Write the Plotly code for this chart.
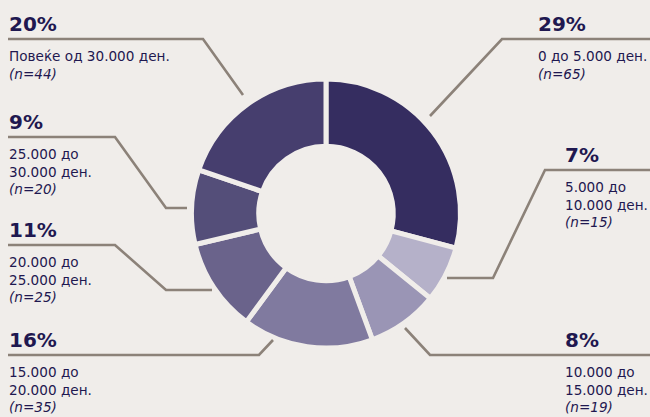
import plotly.graph_objects as go

# ---- data ----
categories = ["0 до 5.000 ден.", "5.000 до<br>10.000 ден.", "10.000 до<br>15.000 ден.",
              "15.000 до<br>20.000 ден.", "20.000 до<br>25.000 ден.", "25.000 до<br>30.000 ден.",
              "Повеќе од 30.000 ден."]
counts = [65, 15, 19, 35, 25, 20, 44]
pct_labels = ["29%", "7%", "8%", "16%", "11%", "9%", "20%"]
colors = ["#352d60", "#b5b1c9", "#9a95b5", "#807a9f", "#6a638b", "#544e79", "#463e6e"]

# ---- layout helpers (pixel positions of label blocks & leader lines) ----
W, H = 650, 417
BG = "#f0edea"
TXT = "#1f1850"
LINE = "#8c8279"
FONT = "DejaVu Sans, Liberation Sans, Arial, sans-serif"

label_x = [537, 564, 564, 8, 8, 8, 8]
label_line_y = [39, 170, 355, 355, 245, 137, 39]
leaders = [
    [(650, 39), (502, 39), (430, 116)],
    [(650, 170), (545, 170), (493, 278), (447, 278)],
    [(650, 355), (430, 355), (405, 328)],
    [(8, 355), (259, 355), (273, 340)],
    [(8, 245), (115, 245), (166, 290), (212, 290)],
    [(8, 137), (115, 137), (166, 208), (187, 208)],
    [(8, 39), (203, 39), (243, 95)],
]

def px(x):
    return x / W

def py(y):
    return 1 - y / H

cx, cy, R = 326, 213.5, 134.5

fig = go.Figure(go.Pie(
    labels=[c.replace("<br>", " ") for c in categories],
    values=counts,
    sort=False,
    direction="clockwise",
    rotation=0,
    hole=0.5,
    textinfo="none",
    hoverinfo="label+value",
    marker=dict(colors=colors, line=dict(color=BG, width=5)),
    domain=dict(x=[px(cx - R), px(cx + R)], y=[py(cy + R), py(cy - R)]),
    showlegend=False,
))

shapes = []
for pts in leaders:
    path = "M " + " L ".join(f"{px(x)},{py(y)}" for x, y in pts)
    shapes.append(dict(type="path", path=path, xref="paper", yref="paper",
                       line=dict(color=LINE, width=2.6)))

annotations = []
n_txt = [f"<i>(n={n})</i>" for n in counts]
for i in range(len(counts)):
    ly = label_line_y[i]
    annotations.append(dict(
        x=px(label_x[i]), y=py(ly - 15), xref="paper", yref="paper",
        xanchor="left", yanchor="middle", showarrow=False, borderpad=0,
        text=f"<b>{pct_labels[i]}</b>",
        font=dict(family=FONT, size=20, color=TXT),
    ))
    annotations.append(dict(
        x=px(label_x[i]), y=py(ly + 8), xref="paper", yref="paper",
        xanchor="left", yanchor="top", showarrow=False, align="left", borderpad=0,
        text=categories[i] + "<br>" + n_txt[i],
        font=dict(family=FONT, size=13.6, color=TXT),
    ))

fig.update_layout(
    width=W, height=H,
    margin=dict(l=0, r=0, t=0, b=0),
    paper_bgcolor=BG, plot_bgcolor=BG,
    shapes=shapes, annotations=annotations,
)

fig.write_html(
    "out.html",
    config={"displayModeBar": False},
    post_script="document.body.style.margin='0';document.body.style.overflow='hidden';"
                "document.body.style.background='" + BG + "';",
)
